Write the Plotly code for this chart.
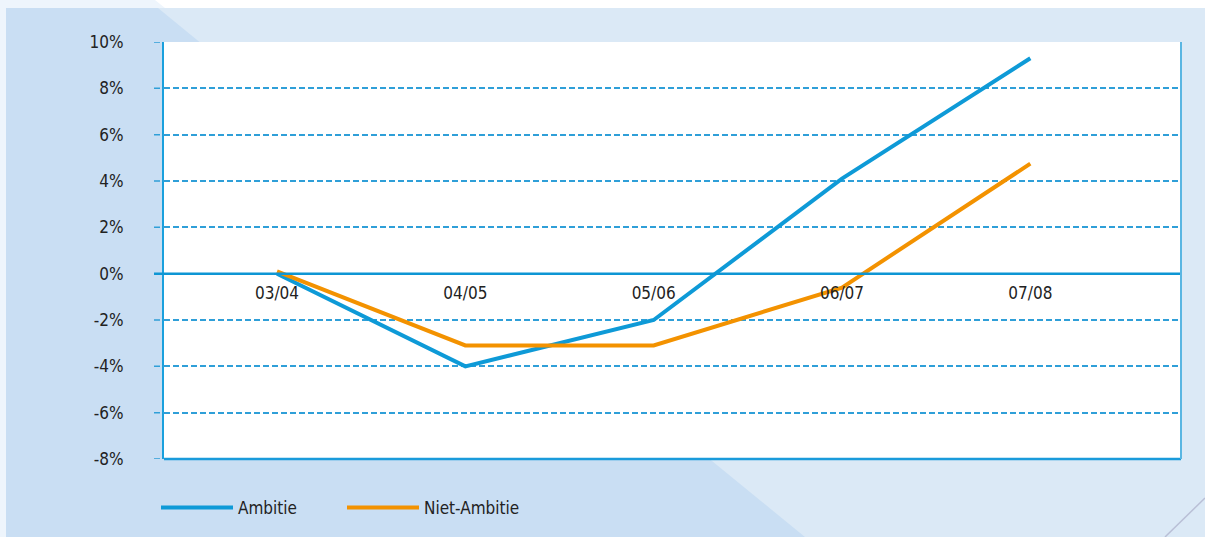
import plotly.graph_objects as go

years = ["03/04", "04/05", "05/06", "06/07", "07/08"]
ambitie = [0.0, -4.0, -2.0, 4.1, 9.3]
niet_ambitie = [0.1, -3.1, -3.1, -0.6, 4.75]
y_ticks = [10, 8, 6, 4, 2, 0, -2, -4, -6, -8]

W, H = 1205, 537
# plot area in pixels
px_l, px_r, px_t, px_b = 164, 1181, 42, 459
xdom = [px_l / W, px_r / W]
ydom = [1 - px_b / H, 1 - px_t / H]
zero_pos = ydom[0] + (ydom[1] - ydom[0]) * 8 / 18
grid_col = "#2f9fd8"

fig = go.Figure()
fig.add_trace(go.Scatter(x=years, y=ambitie, mode="lines", name="Ambitie",
                         line=dict(color="#0e9ad7", width=4)))
fig.add_trace(go.Scatter(x=years, y=niet_ambitie, mode="lines", name="Niet-Ambitie",
                         line=dict(color="#f39200", width=4)))

# background panels
fig.add_shape(type="rect", xref="paper", yref="paper", x0=0, x1=1, y0=0, y1=1,
              fillcolor="#eef5fc", line_width=0, layer="below")
fig.add_shape(type="rect", xref="paper", yref="paper", x0=6 / W, x1=1, y0=0, y1=1 - 8 / H,
              fillcolor="#dbe9f6", line_width=0, layer="below")
fig.add_shape(type="path", xref="paper", yref="paper",
              path=f"M {6/W} {1-8/H} L {158/W} {1-8/H} L {805/W} 0 L {6/W} 0 Z",
              fillcolor="#c9def3", line_width=0, layer="below")
fig.add_shape(type="path", xref="paper", yref="paper",
              path=f"M {155/W} 1 L {165/W} {1-8/H} L 1 {1-8/H} L 1 1 Z",
              fillcolor="#ffffff", line_width=0, layer="below")
fig.add_shape(type="line", xref="paper", yref="paper",
              x0=1, y0=1 - 498 / H, x1=1165 / W, y1=0,
              line=dict(color="#b9bfd6", width=1.5), layer="below")
# white plot area
fig.add_shape(type="rect", xref="paper", yref="paper",
              x0=xdom[0], x1=xdom[1], y0=ydom[0], y1=ydom[1],
              fillcolor="#ffffff", line_width=0, layer="below")
# dashed tick stubs left of the axis
for v in y_ticks:
    if v != 0:
        fig.add_shape(type="line", xref="paper", yref="y",
                      x0=154 / W, x1=px_l / W, y0=v, y1=v,
                      line=dict(color=grid_col, width=1.5, dash="6px,3px"))
# zero line extending to the tick area
fig.add_shape(type="line", xref="paper", yref="y",
              x0=154 / W, x1=px_r / W, y0=0, y1=0,
              line=dict(color="#0e96d4", width=2.5))
# bottom and right frame
fig.add_shape(type="line", xref="paper", yref="paper",
              x0=px_l / W, x1=px_r / W, y0=ydom[0], y1=ydom[0],
              line=dict(color="#1a9bdb", width=2.5))
fig.add_shape(type="line", xref="paper", yref="paper",
              x0=px_r / W, x1=px_r / W, y0=ydom[0], y1=ydom[1],
              line=dict(color="#5ab6e2", width=2))

fig.update_layout(
    width=W, height=H,
    margin=dict(l=0, r=0, t=0, b=0),
    paper_bgcolor="#dbe9f6",
    plot_bgcolor="#ffffff",
    font=dict(family="DejaVu Sans Condensed, Liberation Sans Narrow, sans-serif",
              size=17, color="#222222"),
    showlegend=True,
    legend=dict(orientation="h", x=156 / W, y=1 - 508 / H, yanchor="middle",
                xanchor="left", bgcolor="rgba(0,0,0,0)",
                itemwidth=72, entrywidth=99, entrywidthmode="pixels",
                font=dict(size=17)),
    xaxis=dict(domain=xdom, range=[-0.6, 4.8], anchor="free", position=zero_pos,
               showgrid=False, showline=False, ticks="", zeroline=False,
               tickfont=dict(size=17), ticklabelstandoff=7, automargin=False),
    yaxis=dict(domain=ydom, range=[-8, 10], tickvals=y_ticks,
               ticktext=[f"{v}%" for v in y_ticks],
               showgrid=True, gridcolor=grid_col, griddash="6px,3px", gridwidth=1.5,
               zeroline=False, showline=True, linecolor="#1aa0dd", linewidth=2,
               ticks="", ticklabelstandoff=35,
               tickfont=dict(size=17), automargin=False),
)

fig.write_html("out.html", config={"displayModeBar": False},
               post_script="document.body.style.margin='0';document.body.style.overflow='hidden';")
